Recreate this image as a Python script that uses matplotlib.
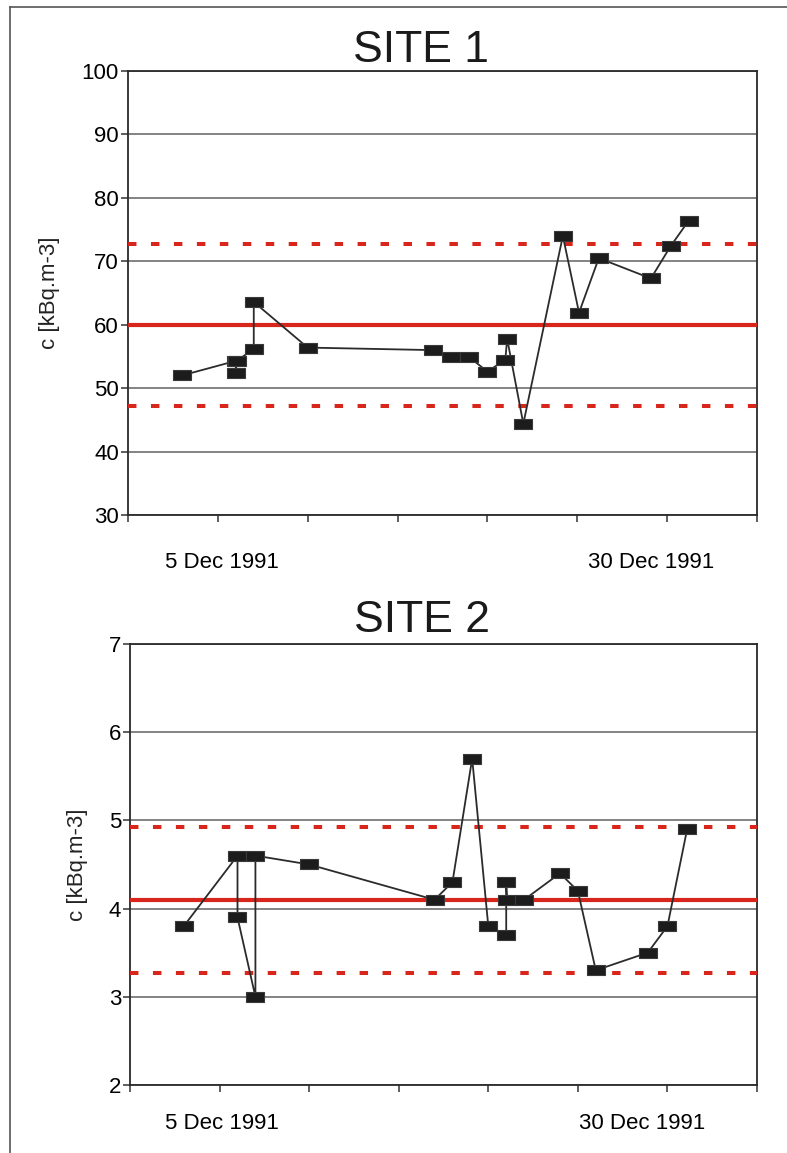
import matplotlib
matplotlib.use('Agg')
import matplotlib.pyplot as plt
from matplotlib.path import Path
from matplotlib.lines import Line2D
from matplotlib.transforms import ScaledTranslation

plt.rcParams['font.family'] = ['Liberation Sans', 'DejaVu Sans']

# x = days counted from 30 Nov 1991
site1_day = [3.0, 6.0, 6.0, 6.05, 7.0, 7.0, 10.0, 17.0, 18.0, 19.0, 20.0, 21.0, 21.1,
             22.0, 24.2, 25.1, 26.2, 29.1, 30.2, 31.2]
site1_c = [52.0, 54.3, 52.4, 54.3, 56.2, 63.6, 56.4, 56.0, 54.9, 54.9, 52.6, 54.5, 57.8,
           44.4, 74.0, 61.9, 70.5, 67.3, 72.4, 76.4]
site1_mean, site1_hi, site1_lo = 60.0, 72.8, 47.2

site2_day = [3.0, 6.0, 6.0, 7.0, 7.0, 10.0, 17.0, 18.0, 19.1, 20.0, 21.0, 21.0, 21.05,
             22.0, 24.0, 25.0, 26.0, 28.9, 30.0, 31.1]
site2_c = [3.8, 4.6, 3.9, 3.0, 4.6, 4.5, 4.1, 4.3, 5.7, 3.8, 3.7, 4.3, 4.1,
           4.1, 4.4, 4.2, 3.3, 3.5, 3.8, 4.9]
site2_mean, site2_hi, site2_lo = 4.1, 4.92, 3.27

tick_days = [0, 5, 10, 15, 20, 25, 30, 35]
tick_text = ['', '5 Dec 1991', '', '', '', '', '30 Dec 1991', '']
site1_yticks = [30, 40, 50, 60, 70, 80, 90, 100]
site2_yticks = [2, 3, 4, 5, 6, 7]

RED = '#d9261c'
bar = Path([(-1, -0.5), (1, -0.5), (1, 0.5), (-1, 0.5), (-1, -0.5)],
           [Path.MOVETO, Path.LINETO, Path.LINETO, Path.LINETO, Path.CLOSEPOLY])

fig = plt.figure(figsize=(7.87, 11.53), dpi=100)
ax1 = fig.add_axes([0.1626, 0.5533, 0.7992, 0.3851])
ax2 = fig.add_axes([0.1652, 0.0590, 0.7967, 0.3825])


def draw(ax, day, c, mean, hi, lo, yticks, xpad, shifts, ylab_x):
    ax.set_xlim(0, 35)
    ax.set_ylim(yticks[0], yticks[-1])
    ax.set_yticks(yticks)
    ax.set_xticks(tick_days)
    ax.tick_params(axis='y', labelsize=16, length=5, width=1.1, pad=1.5, color='#333')
    ax.tick_params(axis='x', labelsize=16, length=5, width=1.1, pad=xpad, color='#333')
    ax.set_xticklabels(tick_text)
    for lab, dx in zip(ax.get_xticklabels(), shifts):
        lab.set_transform(lab.get_transform() + ScaledTranslation(dx / 100, 0, fig.dpi_scale_trans))
    ax.grid(axis='y', color='#6e6e6e', lw=1.2)
    ax.set_axisbelow(True)
    for s in ax.spines.values():
        s.set_color('#2a2a2a')
        s.set_linewidth(1.3)
    ax.axhline(mean, color=RED, lw=3, zorder=3)
    ax.axhline(hi, color=RED, lw=2.9, dashes=(2.1, 3.6), zorder=3)
    ax.axhline(lo, color=RED, lw=2.9, dashes=(2.1, 3.6), zorder=3)
    ax.plot(day, c, color='#2b2b2b', lw=1.3, marker=bar, ms=13,
            mfc='#1c1c1c', mec='#3a3a3a', mew=0.8, zorder=4)
    ax.set_ylabel('c [kBq.m-3]', fontsize=16, color='#222')
    ax.yaxis.set_label_coords(ylab_x, 0.5)


draw(ax1, site1_day, site1_c, site1_mean, site1_hi, site1_lo, site1_yticks,
     21.5, [0, 4, 0, 0, 0, 0, -16, 0], -0.108)
draw(ax2, site2_day, site2_c, site2_mean, site2_hi, site2_lo, site2_yticks,
     15, [0, 2, 0, 0, 0, 0, -25, 0], -0.067)

fig.text(0.535, 1 - 62 / 1153, 'SITE 1', fontsize=32, ha='center', va='baseline', color='#1a1a1a')
fig.text(0.536, 1 - 632 / 1153, 'SITE 2', fontsize=32, ha='center', va='baseline', color='#1a1a1a')

# scan frame (top and left edges)
fig.add_artist(Line2D([0.0127, 1.0], [0.9939, 0.9939], color='#555', lw=1.2))
fig.add_artist(Line2D([0.0127, 0.0127], [0.0, 0.9939], color='#555', lw=1.2))

fig.savefig('out.png', dpi=100)
